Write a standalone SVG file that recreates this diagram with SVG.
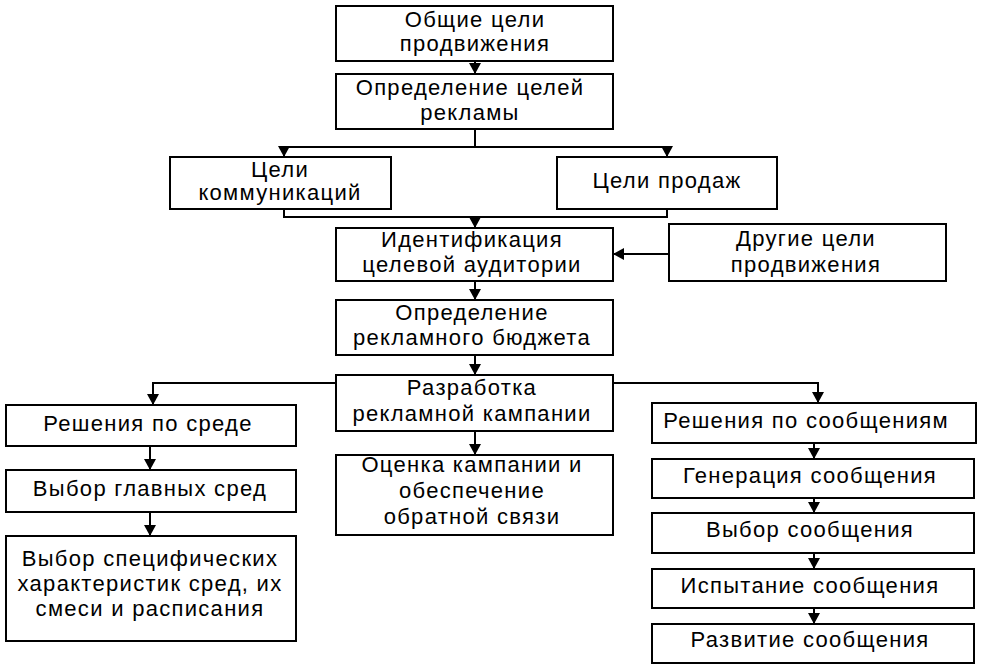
<svg xmlns="http://www.w3.org/2000/svg" width="983" height="672" viewBox="0 0 983 672">
<defs>
<style>
.b{fill:#fff;stroke:#000;stroke-width:2}
.t{font-family:"Liberation Sans",Arial,sans-serif;font-size:22px;letter-spacing:1.3px;text-anchor:middle;fill:#000}
.c{fill:none;stroke:#000;stroke-width:2}
</style>
<marker id="a" markerUnits="userSpaceOnUse" markerWidth="12" markerHeight="12" refX="11" refY="6" orient="auto">
<path d="M0,0 L11,6 L0,12 z" fill="#000"/>
</marker>
</defs>
<rect width="983" height="672" fill="#fff"/>
<g id="connectors">
<path class="c" d="M475,61 V74" marker-end="url(#a)"/>
<path class="c" d="M475,129 V147 M284,147 H667"/>
<path class="c" d="M284,147 V157" marker-end="url(#a)"/>
<path class="c" d="M667,147 V157" marker-end="url(#a)"/>
<path class="c" d="M284,209 V217 H667 V209"/>
<path class="c" d="M475,217 V228" marker-end="url(#a)"/>
<path class="c" d="M669,254 H613" marker-end="url(#a)"/>
<path class="c" d="M475,281 V300" marker-end="url(#a)"/>
<path class="c" d="M475,355 V375" marker-end="url(#a)"/>
<path class="c" d="M336,383 H153 V405" marker-end="url(#a)"/>
<path class="c" d="M613,383 H818 V403" marker-end="url(#a)"/>
<path class="c" d="M475,431 V455" marker-end="url(#a)"/>
<path class="c" d="M150,446 V470" marker-end="url(#a)"/>
<path class="c" d="M150,512 V536" marker-end="url(#a)"/>
<path class="c" d="M814,443 V459" marker-end="url(#a)"/>
<path class="c" d="M814,498 V513" marker-end="url(#a)"/>
<path class="c" d="M814,553 V569" marker-end="url(#a)"/>
<path class="c" d="M814,608 V624" marker-end="url(#a)"/>
</g>
<g id="n1"><rect class="b" x="336" y="6" width="277" height="55"/><text class="t" x="475" y="27">Общие цели</text><text class="t" x="475" y="51">продвижения</text></g>
<g id="n2"><rect class="b" x="336" y="74" width="277" height="55"/><text class="t" x="470" y="95">Определение целей</text><text class="t" x="470" y="120">рекламы</text></g>
<g id="n3"><rect class="b" x="170" y="157" width="221" height="52"/><text class="t" x="280" y="177">Цели</text><text class="t" x="280" y="200">коммуникаций</text></g>
<g id="n4"><rect class="b" x="557" y="157" width="220" height="52"/><text class="t" x="667" y="188">Цели продаж</text></g>
<g id="n5"><rect class="b" x="336" y="228" width="277" height="53"/><text class="t" x="472" y="247">Идентификация</text><text class="t" x="472" y="272">целевой аудитории</text></g>
<g id="n6"><rect class="b" x="669" y="224" width="277" height="57"/><text class="t" x="806" y="246">Другие цели</text><text class="t" x="806" y="272">продвижения</text></g>
<g id="n7"><rect class="b" x="336" y="300" width="277" height="55"/><text class="t" x="472" y="320">Определение</text><text class="t" x="472" y="345">рекламного бюджета</text></g>
<g id="n8"><rect class="b" x="336" y="375" width="277" height="56"/><text class="t" x="472" y="395">Разработка</text><text class="t" x="472" y="421">рекламной кампании</text></g>
<g id="n9"><rect class="b" x="6" y="405" width="290" height="41"/><text class="t" x="148" y="431">Решения по среде</text></g>
<g id="n10"><rect class="b" x="652" y="403" width="324" height="40"/><text class="t" x="806" y="428">Решения по сообщениям</text></g>
<g id="n11"><rect class="b" x="336" y="455" width="277" height="80"/><text class="t" x="472" y="472">Оценка кампании и</text><text class="t" x="472" y="498">обеспечение</text><text class="t" x="472" y="524">обратной связи</text></g>
<g id="n12"><rect class="b" x="6" y="470" width="290" height="42"/><text class="t" x="150" y="496">Выбор главных сред</text></g>
<g id="n13"><rect class="b" x="6" y="536" width="290" height="105"/><text class="t" x="150" y="566">Выбор специфических</text><text class="t" x="150" y="591">характеристик сред, их</text><text class="t" x="150" y="616">смеси и расписания</text></g>
<g id="n14"><rect class="b" x="652" y="459" width="322" height="39"/><text class="t" x="810" y="483">Генерация сообщения</text></g>
<g id="n15"><rect class="b" x="652" y="513" width="322" height="40"/><text class="t" x="810" y="537">Выбор сообщения</text></g>
<g id="n16"><rect class="b" x="652" y="569" width="322" height="39"/><text class="t" x="810" y="593">Испытание сообщения</text></g>
<g id="n17"><rect class="b" x="652" y="624" width="322" height="39"/><text class="t" x="810" y="647">Развитие сообщения</text></g>
</svg>
